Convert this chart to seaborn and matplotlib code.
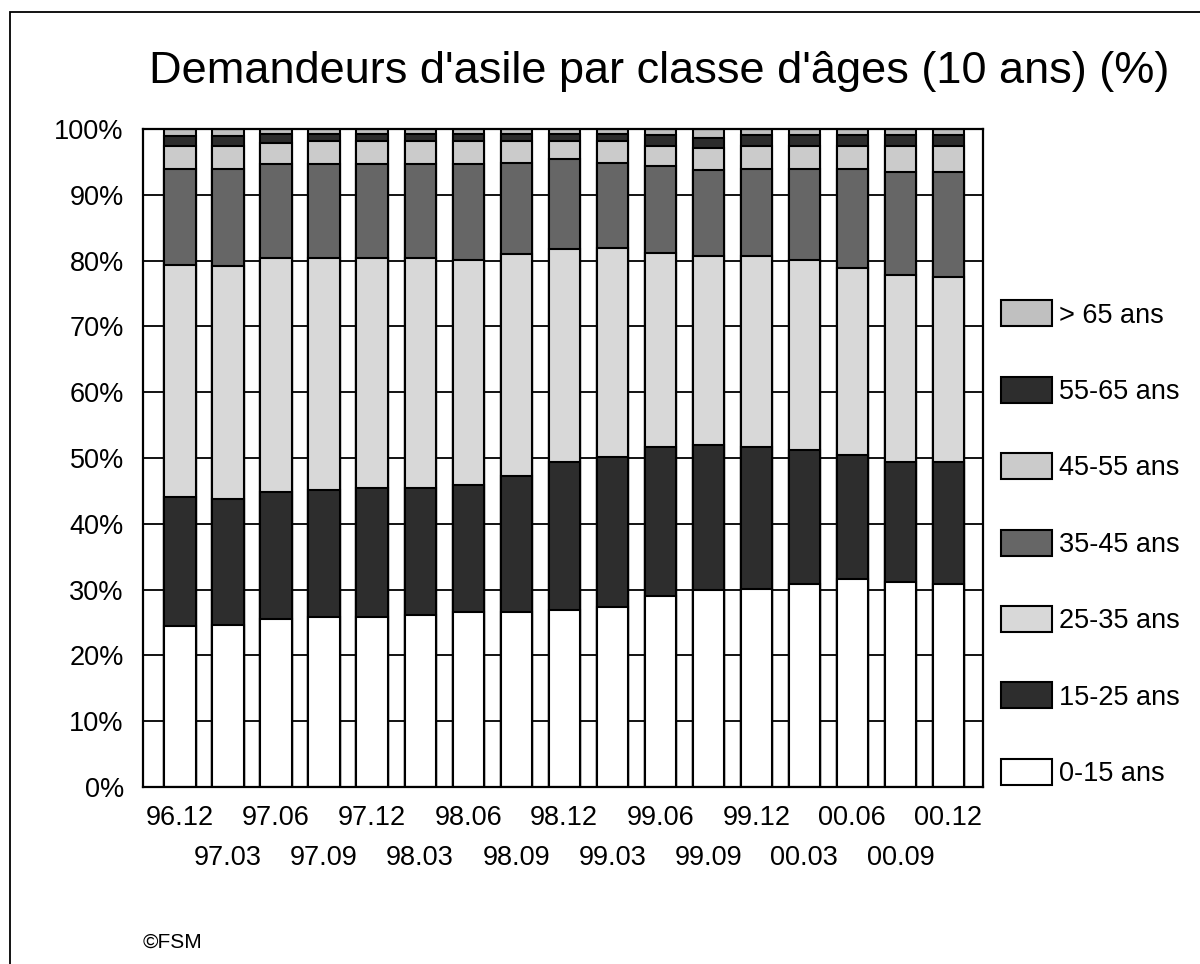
"""Demandeurs d'asile par classe d'ages - stacked bars"""

import numpy as np
import pandas as pd
import seaborn as sns
import matplotlib.pyplot as plt
from matplotlib.patches import Patch, Rectangle

sns.set_style('white')
plt.rcParams['font.family'] = ['Liberation Sans', 'DejaVu Sans']
plt.rcParams['text.color'] = 'black'
plt.rcParams['xtick.color'] = 'black'
plt.rcParams['ytick.color'] = 'black'

# data (percent of each age class per quarter)
dates = ['96.12', '97.03', '97.06', '97.09', '97.12', '98.03', '98.06', '98.09', '98.12',
         '99.03', '99.06', '99.09', '99.12', '00.03', '00.06', '00.09', '00.12']
age_0_15 = [24.5, 24.6, 25.5, 25.9, 25.9, 26.2, 26.6, 26.6, 26.9, 27.3, 29.0, 30.0, 30.1, 30.9, 31.6, 31.2, 30.9]
age_15_25 = [19.6, 19.2, 19.3, 19.3, 19.6, 19.3, 19.3, 20.7, 22.5, 22.9, 22.6, 21.9, 21.5, 20.3, 18.9, 18.2, 18.5]
age_25_35 = [35.2, 35.4, 35.6, 35.2, 34.9, 34.9, 34.2, 33.7, 32.3, 31.7, 29.5, 28.8, 29.1, 28.9, 28.4, 28.4, 28.1]
age_35_45 = [14.6, 14.7, 14.3, 14.3, 14.3, 14.3, 14.6, 13.9, 13.7, 13.0, 13.2, 13.1, 13.2, 13.8, 15.0, 15.7, 16.0]
age_45_55 = [3.5, 3.5, 3.1, 3.4, 3.4, 3.4, 3.4, 3.2, 2.7, 3.2, 3.1, 3.3, 3.5, 3.5, 3.5, 3.9, 3.9]
age_55_65 = [1.6, 1.6, 1.5, 1.2, 1.2, 1.2, 1.2, 1.2, 1.2, 1.2, 1.7, 1.5, 1.7, 1.7, 1.7, 1.7, 1.7]
age_65 = [1.0, 1.0, 0.7, 0.7, 0.7, 0.7, 0.7, 0.7, 0.7, 0.7, 0.9, 1.4, 0.9, 0.9, 0.9, 0.9, 0.9]

classes = ['0-15 ans', '15-25 ans', '25-35 ans', '35-45 ans', '45-55 ans', '55-65 ans', '> 65 ans']
colors = ['#ffffff', '#2d2d2d', '#d8d8d8', '#666666', '#cbcbcb', '#2d2d2d', '#c0c0c0']

df = pd.DataFrame(dict(zip(classes, [age_0_15, age_15_25, age_25_35, age_35_45,
                                     age_45_55, age_55_65, age_65])), index=dates)
cum = df.cumsum(axis=1)

fig = plt.figure(figsize=(12, 9.64), dpi=100)
ax = fig.add_axes([0.1194, 0.1836, 0.6997, 0.6826])

# draw cumulative bars from the top class down so lower ones cover the rest
for cls, col in zip(classes[::-1], colors[::-1]):
    sns.barplot(x=dates, y=cum[cls].values, order=dates, color=col, edgecolor='black',
                linewidth=1.5, width=0.65, saturation=1, ax=ax)

ax.set_ylim(0, 100)
ax.set_xlim(-0.765, 16.72)
ax.set_yticks(np.arange(0, 101, 10))
ax.set_yticklabels([f'{v}%' for v in range(0, 101, 10)], fontsize=19.5)

# labels alternate on two rows: even quarters as major ticks, odd ones as minor ticks
pos = np.arange(len(dates))
ax.set_xticks(pos[::2])
ax.set_xticklabels(dates[::2], fontsize=19.5)
ax.set_xticks(pos[1::2], minor=True)
ax.set_xticklabels(dates[1::2], minor=True, fontsize=19.5)
ax.tick_params(axis='y', length=5, width=1.2, pad=9)
ax.tick_params(axis='x', which='major', length=6, width=1.2, pad=7)
ax.tick_params(axis='x', which='minor', length=6, width=1.2, pad=36)
ax.set_xlabel('')
ax.set_ylabel('')
ax.yaxis.grid(True, color='black', linewidth=1.3)
ax.set_axisbelow(True)
for s in ax.spines.values():
    s.set_color('black')
    s.set_linewidth(1.6)

handles = [Patch(facecolor=c, edgecolor='black', linewidth=1.5) for c in colors[::-1]]
fig.legend(handles, classes[::-1], loc='center left', bbox_to_anchor=(0.834, 0.436),
           frameon=False, fontsize=19.5, handlelength=1.9, handleheight=1.1,
           handletextpad=0.25, labelspacing=1.78, borderpad=0, borderaxespad=0)

fig.text(0.549, 0.914, "Demandeurs d'asile par classe d'âges (10 ans) (%)",
         fontsize=32.5, ha='center', va='baseline')
fig.text(0.119, 0.0166, '©FSM', fontsize=15, ha='left', va='baseline')

# outer frame, open on right and bottom like the original export
fig.patches.append(Rectangle((10 / 1200, -0.1), 2, 1 - 12 / 964 + 0.1,
                             transform=fig.transFigure, fill=False,
                             edgecolor='black', linewidth=1.3))

plt.savefig('out.png', dpi=100)
